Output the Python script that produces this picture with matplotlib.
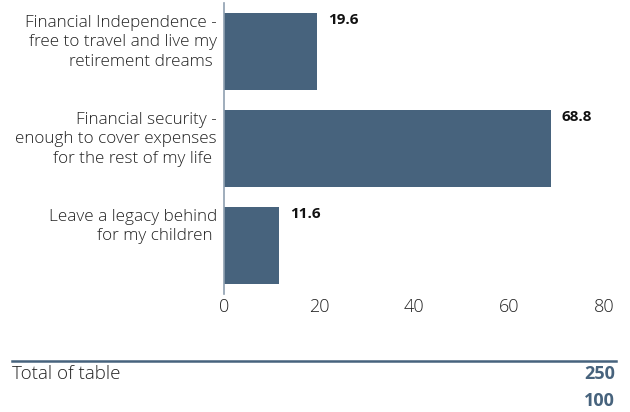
import matplotlib.pyplot as plt
from matplotlib.lines import Line2D

plt.rcParams['font.family'] = ['Open Sans', 'DejaVu Sans']

categories = [
    'Financial Independence -\nfree to travel and live my\nretirement dreams ',
    'Financial security -\nenough to cover expenses\nfor the rest of my life ',
    'Leave a legacy behind\nfor my children ',
]
values = [19.6, 68.8, 11.6]
x_ticks = [0, 20, 40, 60, 80]
total_label = 'Total of table'
total_values = ['250', '100']

bar_color = '#47637d'
text_color = '#222222'

fig = plt.figure(figsize=(6.3, 4.12), dpi=100)
ax = fig.add_axes([0.3556, 0.2864, 0.603, 0.706])

pos = list(range(len(values)))
ax.barh(pos, values, height=0.8, color=bar_color)
ax.set_ylim(2.5, -0.5)
ax.set_xlim(0, 80)

for s in ['top', 'right', 'bottom']:
    ax.spines[s].set_visible(False)
ax.spines['left'].set_color('#8fa0b0')
ax.spines['left'].set_linewidth(1.2)

ax.set_xticks(x_ticks)
ax.set_xticklabels([str(t) for t in x_ticks], fontsize=13,
                   color=text_color, fontweight='light')
ax.tick_params(axis='x', length=0, pad=3)
ax.set_yticks([])

# category labels, top-aligned with each bar
for i, lab in zip(pos, categories):
    ax.annotate(lab, xy=(0, i - 0.4), xycoords=('axes fraction', 'data'),
                xytext=(-5, -1.5), textcoords='offset points',
                ha='right', va='top', fontsize=12.3, color=text_color,
                fontweight='light', linespacing=1.28)

# value labels beside the bar ends
for i, v in zip(pos, values):
    ax.annotate(f'{v:.1f}', xy=(v, i - 0.4), xytext=(8, -5),
                textcoords='offset points', ha='left', va='center',
                fontsize=11, fontweight='bold', color='#111111')

# table total below the chart
fig.add_artist(Line2D([12 / 630, 616 / 630], [1 - 360.5 / 412] * 2,
                      color=bar_color, linewidth=1.8))
fig.text(12 / 630, 1 - 374 / 412, total_label, ha='left', va='center',
         fontsize=13.5, color=text_color, fontweight='light')
for k, tv in enumerate(total_values):
    fig.text(615 / 630, 1 - (374 + 27 * k) / 412, tv, ha='right', va='center',
             fontsize=13, fontweight='bold', color=bar_color)

fig.savefig('out.png', dpi=100)
